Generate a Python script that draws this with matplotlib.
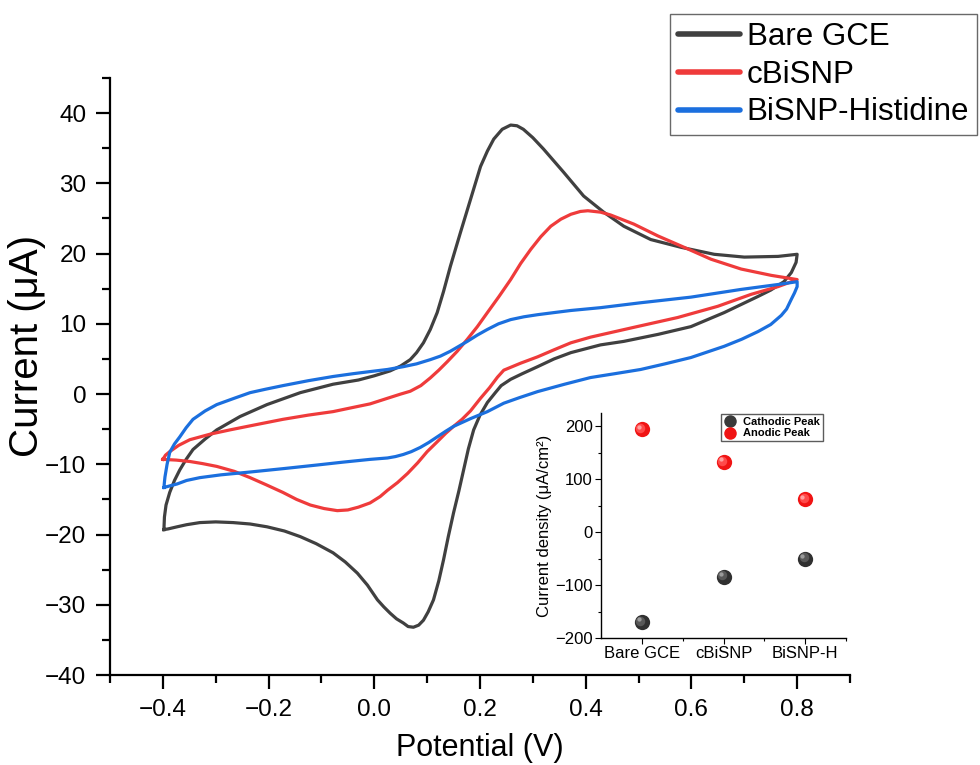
import matplotlib
matplotlib.use("Agg")
import matplotlib.pyplot as plt
from matplotlib.ticker import MultipleLocator
from matplotlib.transforms import ScaledTranslation
from matplotlib.lines import Line2D

plt.rcParams["font.family"] = ["Liberation Sans", "DejaVu Sans"]

# ---- CV loops (potential in V, current in uA), forward scan then reverse scan
bare_v = [-0.398, -0.397, -0.394, -0.387, -0.378, -0.368, -0.356, -0.343, -0.320, -0.298,
          -0.254, -0.203, -0.140, -0.078, -0.030, 0.000, 0.030, 0.050, 0.068, 0.080,
          0.093, 0.106, 0.119, 0.131, 0.144, 0.163, 0.182, 0.201, 0.214, 0.226,
          0.242, 0.258, 0.270, 0.282, 0.300, 0.320, 0.358, 0.396, 0.434, 0.472,
          0.523, 0.580, 0.643, 0.700, 0.764, 0.800,
          0.798, 0.789, 0.775, 0.750, 0.726, 0.662, 0.599, 0.537, 0.472, 0.428,
          0.372, 0.340, 0.309, 0.280, 0.258, 0.240, 0.229, 0.214, 0.200, 0.188,
          0.178, 0.169, 0.160, 0.150, 0.140, 0.131, 0.122, 0.112, 0.102, 0.093,
          0.084, 0.074, 0.064, 0.055, 0.042, 0.030, 0.018, 0.006, -0.013, -0.032,
          -0.055, -0.078, -0.110, -0.140, -0.170, -0.203, -0.235, -0.267, -0.300, -0.330,
          -0.355, -0.373, -0.390, -0.398]
bare_i = [-19.3, -17.5, -15.8, -14.0, -12.3, -10.8, -9.3, -7.9, -6.4, -5.1,
          -3.2, -1.5, 0.2, 1.4, 2.0, 2.6, 3.3, 4.0, 4.9, 5.9,
          7.3, 9.2, 11.6, 14.6, 18.2, 23.0, 27.7, 32.4, 34.6, 36.3,
          37.7, 38.3, 38.2, 37.7, 36.5, 34.9, 31.6, 28.2, 25.9, 23.9,
          22.0, 20.9, 19.9, 19.5, 19.6, 19.9,
          18.75, 17.3, 16.0, 14.8, 13.9, 11.6, 9.6, 8.5, 7.5, 7.0,
          5.9, 5.0, 3.9, 2.9, 2.1, 1.2, 0.2, -1.2, -3.0, -5.1,
          -7.8, -10.8, -13.8, -16.9, -20.3, -23.6, -26.6, -29.3, -31.0, -32.2,
          -32.9, -33.2, -33.1, -32.6, -32.0, -31.2, -30.3, -29.3, -27.2, -25.5,
          -23.9, -22.6, -21.3, -20.3, -19.5, -18.9, -18.5, -18.3, -18.2, -18.3,
          -18.6, -18.9, -19.2, -19.3]

cbi_v = [-0.400, -0.395, -0.387, -0.370, -0.349, -0.310, -0.273, -0.220, -0.173, -0.125,
         -0.078, -0.040, -0.008, 0.025, 0.050, 0.068, 0.088, 0.106, 0.122, 0.138,
         0.157, 0.176, 0.195, 0.214, 0.236, 0.258, 0.277, 0.296, 0.315, 0.334,
         0.353, 0.372, 0.390, 0.404, 0.428, 0.447, 0.491, 0.537, 0.586, 0.637,
         0.694, 0.751, 0.800,
         0.764, 0.713, 0.650, 0.574, 0.491, 0.409, 0.372, 0.340, 0.309, 0.277,
         0.245, 0.233, 0.218, 0.201, 0.182, 0.166, 0.150, 0.135, 0.119, 0.100,
         0.082, 0.063, 0.044, 0.025, 0.011, -0.008, -0.030, -0.050, -0.070, -0.095,
         -0.121, -0.147, -0.173, -0.205, -0.235, -0.265, -0.298, -0.325, -0.349, -0.375,
         -0.400]
cbi_i = [-9.3, -8.7, -8.2, -7.3, -6.5, -5.7, -5.1, -4.3, -3.6, -3.0,
         -2.5, -1.9, -1.4, -0.6, 0.0, 0.4, 1.2, 2.3, 3.4, 4.6,
         6.1, 7.8, 9.6, 11.6, 13.9, 16.3, 18.6, 20.6, 22.4, 23.9,
         24.9, 25.6, 26.0, 26.1, 25.9, 25.5, 24.2, 22.5, 20.9, 19.2,
         17.8, 16.9, 16.3,
         15.3, 14.2, 12.5, 10.9, 9.5, 8.1, 7.3, 6.3, 5.3, 4.4,
         3.4, 2.4, 0.9, -0.6, -2.4, -3.6, -4.6, -5.6, -6.8, -8.2,
         -9.8, -11.3, -12.6, -13.7, -14.6, -15.5, -16.1, -16.5, -16.6, -16.3,
         -15.8, -15.0, -14.0, -12.9, -11.9, -11.0, -10.3, -9.9, -9.6, -9.4,
         -9.3]

his_v = [-0.398, -0.397, -0.396, -0.392, -0.387, -0.378, -0.368, -0.356, -0.343, -0.320,
         -0.298, -0.265, -0.235, -0.205, -0.173, -0.125, -0.078, -0.040, -0.008, 0.025,
         0.055, 0.080, 0.106, 0.125, 0.144, 0.160, 0.176, 0.195, 0.214, 0.235,
         0.258, 0.283, 0.309, 0.340, 0.372, 0.428, 0.504, 0.599, 0.694, 0.764,
         0.800,
         0.800, 0.795, 0.789, 0.780, 0.770, 0.750, 0.726, 0.695, 0.662, 0.599,
         0.550, 0.504, 0.455, 0.409, 0.360, 0.309, 0.275, 0.245, 0.214, 0.182,
         0.150, 0.135, 0.119, 0.103, 0.087, 0.070, 0.055, 0.040, 0.025, -0.008,
         -0.060, -0.108, -0.170, -0.235, -0.290, -0.330, -0.355, -0.373, -0.388, -0.398]
his_i = [-13.3, -12.5, -11.8, -10.0, -8.3, -7.1, -6.1, -4.8, -3.6, -2.4,
         -1.5, -0.6, 0.2, 0.7, 1.2, 1.9, 2.5, 2.9, 3.2, 3.5,
         3.9, 4.3, 4.9, 5.4, 6.1, 6.8, 7.5, 8.4, 9.2, 10.0,
         10.6, 11.0, 11.3, 11.6, 11.9, 12.3, 13.0, 13.8, 14.9, 15.6,
         16.0,
         15.3, 14.4, 13.5, 12.1, 11.2, 9.9, 8.9, 7.8, 6.8, 5.2,
         4.3, 3.5, 2.9, 2.35, 1.4, 0.35, -0.5, -1.3, -2.5, -3.5,
         -4.6, -5.3, -6.1, -6.9, -7.6, -8.2, -8.6, -8.9, -9.1, -9.3,
         -9.7, -10.1, -10.6, -11.1, -11.5, -11.9, -12.3, -12.8, -13.1, -13.3]

series_names = ["Bare GCE", "cBiSNP", "BiSNP-Histidine"]
series_colors = ["#404040", "#ef3b3b", "#1b6fde"]

# ---- inset: peak current densities (uA/cm2)
electrodes = ["Bare GCE", "cBiSNP", "BiSNP-H"]
cathodic_peak = [-170, -84, -50]
anodic_peak = [194, 132, 62]


def sphere(ax, xs, ys, base, shade, light, size):
    """Fake 3D ball markers by stacking lighter, smaller dots up-left"""
    ax.plot(xs, ys, "o", ms=size, color=base, mew=0, zorder=5)
    fig = ax.figure
    off = ScaledTranslation(-size * 0.10 / 72, size * 0.10 / 72, fig.dpi_scale_trans)
    ax.plot(xs, ys, "o", ms=size * 0.62, color=shade, mew=0, zorder=6,
            transform=ax.transData + off)
    off2 = ScaledTranslation(-size * 0.18 / 72, size * 0.18 / 72, fig.dpi_scale_trans)
    ax.plot(xs, ys, "o", ms=size * 0.28, color=light, mew=0, zorder=7,
            transform=ax.transData + off2)


fig = plt.figure(figsize=(9.8, 7.65), dpi=100)
ax = fig.add_axes([110 / 980, 90 / 765, 740 / 980, 597 / 765])

loops = [(bare_v, bare_i), (cbi_v, cbi_i), (his_v, his_i)]
for (v, i), c in zip(loops, series_colors):
    ax.plot(v, i, color=c, lw=2.3, solid_joinstyle="round", zorder=3)

ax.set_xlim(-0.5, 0.9)
ax.set_ylim(-40, 45)
ax.xaxis.set_major_locator(MultipleLocator(0.2))
ax.xaxis.set_minor_locator(MultipleLocator(0.1))
ax.yaxis.set_major_locator(MultipleLocator(10))
ax.yaxis.set_minor_locator(MultipleLocator(5))
ax.xaxis.set_major_formatter(plt.FuncFormatter(lambda x, p: f"{x:.1f}".replace("-", "\u2212")))
for s in ["top", "right"]:
    ax.spines[s].set_visible(False)
for s in ["left", "bottom"]:
    ax.spines[s].set_linewidth(1.6)
ax.tick_params(which="major", direction="out", length=10, width=1.6, labelsize=17.5, pad=7)
ax.tick_params(which="minor", direction="out", length=5.5, width=1.6)
ax.set_xlabel("Potential (V)", fontsize=22, va="center")
ax.xaxis.set_label_coords(0.5, (675 - 748) / 597)
ax.set_ylabel("Current (\u03bcA)", fontsize=29, va="center")
ax.yaxis.set_label_coords((27 - 110) / 740, (675 - 346) / 597)

handles = [Line2D([], [], color=c, lw=4, solid_capstyle="round") for c in series_colors]
fig.legend(handles, series_names, loc="upper right", bbox_to_anchor=(977 / 980, 751 / 765),
           fontsize=22.5, frameon=True, fancybox=False, edgecolor="#444444",
           handlelength=2.0, handletextpad=0.2, labelspacing=0.25, borderpad=0.25,
           borderaxespad=0)

# ---- inset
axin = fig.add_axes([601 / 980, 127 / 765, 245 / 980, 225 / 765])
xpos = list(range(len(electrodes)))
sphere(axin, xpos, cathodic_peak, "#303030", "#585858", "#9a9a9a", 11)
sphere(axin, xpos, anodic_peak, "#f01414", "#ff4a4a", "#ffa0a0", 11)
axin.set_xlim(-0.5, 2.5)
axin.set_ylim(-200, 225)
axin.set_xticks(xpos)
axin.set_xticklabels(electrodes)
axin.set_xticks([0.5, 1.5, 2.5], minor=True)
axin.yaxis.set_major_locator(MultipleLocator(100))
axin.yaxis.set_minor_locator(MultipleLocator(50))
for s in ["top", "right"]:
    axin.spines[s].set_visible(False)
for s in ["left", "bottom"]:
    axin.spines[s].set_linewidth(1.0)
axin.tick_params(which="major", direction="out", length=4, width=0.8, labelsize=12, pad=2)
axin.tick_params(which="minor", direction="out", length=2.5, width=0.8)
axin.set_ylabel("Current density (\u03bcA/cm\u00b2)", fontsize=12, labelpad=2)

lh_c = Line2D([], [], ls="", marker="o", ms=9, color="#3a3a3a", mew=0)
lh_a = Line2D([], [], ls="", marker="o", ms=9, color="#f01414", mew=0)
axin.legend([lh_c, lh_a], ["Cathodic Peak", "Anodic Peak"],
            loc="upper right", bbox_to_anchor=(823 / 980, 351 / 765),
            bbox_transform=fig.transFigure, prop={"size": 8, "weight": "bold"},
            frameon=True, fancybox=False, edgecolor="#333333", borderpad=0.25,
            handlelength=1.2, handletextpad=0.6, labelspacing=0.15, borderaxespad=0)

fig.savefig("out.png", dpi=100)
